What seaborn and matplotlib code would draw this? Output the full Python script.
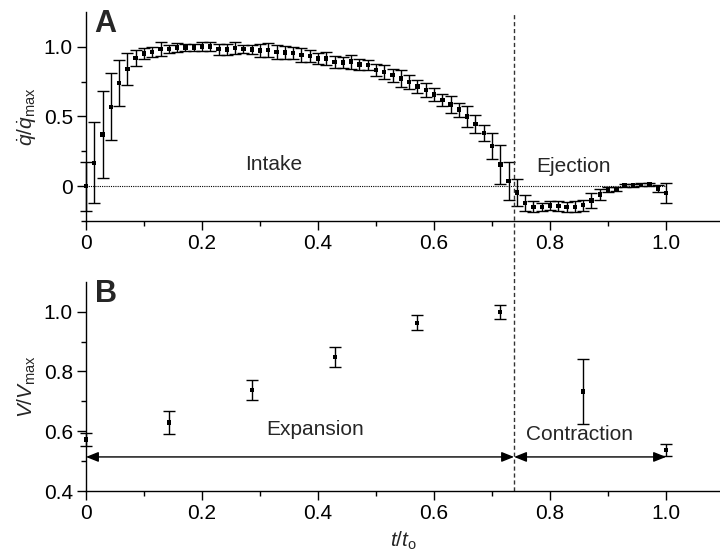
import numpy as np
import pandas as pd
import seaborn as sns
import matplotlib.pyplot as plt

# panel A: normalised flow rate, 71 samples over one cycle
q_time = np.linspace(0, 1, 71)
q_mean = [0.0, 0.167, 0.369, 0.569, 0.74, 0.84, 0.919, 0.95, 0.962, 0.983,
          0.983, 0.993, 0.995, 0.995, 1.0, 1.0, 0.981, 0.98, 0.99, 0.983,
          0.98, 0.971, 0.974, 0.962, 0.957, 0.955, 0.94, 0.933, 0.914, 0.914,
          0.89, 0.886, 0.893, 0.871, 0.869, 0.831, 0.819, 0.795, 0.772, 0.745,
          0.714, 0.69, 0.657, 0.617, 0.586, 0.548, 0.5, 0.445, 0.381, 0.288,
          0.156, 0.035, -0.045, -0.12, -0.148, -0.15, -0.14, -0.143, -0.15, -0.148,
          -0.136, -0.102, -0.06, -0.024, -0.019, 0.005, 0.005, 0.01, 0.012, -0.017,
          -0.05]
q_err = [0.175, 0.29, 0.31, 0.24, 0.165, 0.113, 0.06, 0.04, 0.035, 0.047,
         0.03, 0.03, 0.025, 0.025, 0.03, 0.03, 0.04, 0.04, 0.045, 0.03,
         0.035, 0.045, 0.05, 0.05, 0.045, 0.045, 0.05, 0.045, 0.04, 0.045,
         0.04, 0.04, 0.05, 0.04, 0.035, 0.045, 0.05, 0.045, 0.06, 0.05,
         0.045, 0.05, 0.045, 0.045, 0.06, 0.05, 0.075, 0.065, 0.06, 0.095,
         0.14, 0.135, 0.095, 0.055, 0.04, 0.03, 0.03, 0.035, 0.035, 0.04,
         0.04, 0.055, 0.04, 0.02, 0.015, 0.01, 0.01, 0.01, 0.01, 0.025,
         0.07]

# panel B: normalised volume
v_time = [0, 0.143, 0.286, 0.429, 0.571, 0.714, 0.857, 1.0]
v_mean = [0.572, 0.629, 0.738, 0.848, 0.963, 0.998, 0.733, 0.537]
v_err = [0.022, 0.039, 0.033, 0.034, 0.025, 0.023, 0.109, 0.02]

t_switch = 0.738
arrow_level = 0.514

sns.set_theme(style="ticks")
plt.rcParams['font.family'] = ['Liberation Sans', 'DejaVu Sans']
plt.rcParams['mathtext.fontset'] = 'custom'
plt.rcParams['mathtext.rm'] = 'Liberation Sans'
plt.rcParams['mathtext.it'] = 'Liberation Sans:italic'
plt.rcParams['mathtext.bf'] = 'Liberation Sans:bold'
plt.rcParams.update({
    'font.size': 15,
    'axes.linewidth': 1.0,
    'xtick.direction': 'out', 'ytick.direction': 'out',
    'xtick.major.size': 6.5, 'ytick.major.size': 6.5,
    'xtick.minor.size': 3.5, 'ytick.minor.size': 3.5,
    'xtick.major.width': 1.0, 'ytick.major.width': 1.0,
    'xtick.minor.width': 1.0, 'ytick.minor.width': 1.0,
    'xtick.minor.visible': True, 'ytick.minor.visible': True,
    'xtick.color': 'black', 'ytick.color': 'black',
    'axes.edgecolor': 'black',
})

dfq = pd.DataFrame({"t": q_time, "q": q_mean, "err": q_err})
dfv = pd.DataFrame({"t": v_time, "v": v_mean, "err": v_err})

fig = plt.figure(figsize=(7.2, 5.55), dpi=100)
ax1 = fig.add_axes([0.1194, 0.6018, 0.8806, 0.377])
ax2 = fig.add_axes([0.1194, 0.1153, 0.8806, 0.377])

# --- panel A
ax1.errorbar(dfq.t, dfq.q, yerr=dfq.err, fmt='none', ecolor='black',
             elinewidth=1, capsize=4.5, capthick=1, clip_on=False)
sns.scatterplot(data=dfq, x="t", y="q", ax=ax1, marker='s', s=10,
                color='black', edgecolor='none', zorder=3, clip_on=False)
ax1.plot([0, 1.0], [0, 0], color='black', lw=0.8, ls=(0, (1, 1)))
ax1.set_xlim(0, 1.093)
ax1.set_ylim(-0.25, 1.25)
ax1.set_xticks([0, 0.2, 0.4, 0.6, 0.8, 1.0])
ax1.set_xticklabels(['0', '0.2', '0.4', '0.6', '0.8', '1.0'])
ax1.set_xticks([0.1, 0.3, 0.5, 0.7, 0.9], minor=True)
ax1.set_yticks([0, 0.5, 1.0])
ax1.set_yticklabels(['0', '0.5', '1.0'])
ax1.set_yticks([-0.25, 0.25, 0.75], minor=True)
ax1.set_xlabel('')
ax1.set_ylabel(r'$\dot{q}/\dot{q}_{\mathrm{max}}$', fontsize=15, labelpad=4)
ax1.text(0.323, 0.157, 'Intake', ha='center', va='center', fontsize=15)
ax1.text(0.84, 0.14, 'Ejection', ha='center', va='center', fontsize=15)
ax1.text(0.015, 1.165, 'A', fontsize=22, fontweight='bold', ha='left', va='center')

# --- panel B
ax2.errorbar(dfv.t, dfv.v, yerr=dfv.err, fmt='none', ecolor='black',
             elinewidth=1, capsize=4.5, capthick=1, clip_on=False)
sns.scatterplot(data=dfv, x="t", y="v", ax=ax2, marker='s', s=10,
                color='black', edgecolor='none', zorder=3, clip_on=False)
ax2.set_xlim(0, 1.093)
ax2.set_ylim(0.4, 1.1)
ax2.set_xticks([0, 0.2, 0.4, 0.6, 0.8, 1.0])
ax2.set_xticklabels(['0', '0.2', '0.4', '0.6', '0.8', '1.0'])
ax2.set_xticks([0.1, 0.3, 0.5, 0.7, 0.9], minor=True)
ax2.set_yticks([0.4, 0.6, 0.8, 1.0])
ax2.set_yticklabels(['0.4', '0.6', '0.8', '1.0'])
ax2.set_yticks([0.5, 0.7, 0.9], minor=True)
ax2.set_xlabel(r'$t/t_{\mathrm{o}}$', fontsize=15, labelpad=5)
ax2.set_ylabel(r'$V/V_{\mathrm{max}}$', fontsize=15, labelpad=4)
ax2.text(0.395, 0.607, 'Expansion', ha='center', va='center', fontsize=15)
ax2.text(0.85, 0.59, 'Contraction', ha='center', va='center', fontsize=15)
ax2.text(0.015, 1.06, 'B', fontsize=22, fontweight='bold', ha='left', va='center')

arrow = dict(arrowstyle='<|-|>,head_length=0.5,head_width=0.2', color='black',
             lw=1, mutation_scale=15, shrinkA=0, shrinkB=0)
ax2.annotate('', xy=(0, arrow_level), xytext=(t_switch, arrow_level), arrowprops=arrow)
ax2.annotate('', xy=(t_switch, arrow_level), xytext=(1.0, arrow_level), arrowprops=arrow)

# dashed divider running through both panels
ax2.axvline(t_switch, ymin=0, ymax=2.284, color='#333333', lw=1,
            ls=(0, (3, 2)), clip_on=False)

for ax in (ax1, ax2):
    sns.despine(ax=ax)
    ax.tick_params(labelsize=15, pad=3)

fig.savefig("out.png", dpi=100)
